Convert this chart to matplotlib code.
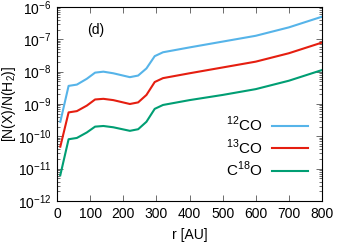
import numpy as np
import matplotlib
matplotlib.use('Agg')
import matplotlib.pyplot as plt
from matplotlib.ticker import LogLocator, NullFormatter, FixedLocator

plt.rcParams['font.family'] = ['Liberation Sans', 'DejaVu Sans']
plt.rcParams['mathtext.fontset'] = 'custom'
plt.rcParams['mathtext.rm'] = 'Liberation Sans'

# radius [AU] and log10 abundances
r = [10, 35, 60, 90, 115, 140, 170, 220, 245, 270, 295, 320, 400, 500, 600, 700, 800]
log_12co = [-9.55, -8.44, -8.40, -8.22, -8.03, -8.00, -8.05, -8.17, -8.12, -7.90, -7.52,
            -7.40, -7.25, -7.07, -6.89, -6.63, -6.30]
log_13co = [-10.32, -9.26, -9.22, -9.05, -8.86, -8.84, -8.88, -9.00, -8.95, -8.72, -8.32,
            -8.20, -8.05, -7.87, -7.69, -7.43, -7.10]
log_c18o = [-11.20, -10.09, -10.05, -9.88, -9.70, -9.68, -9.72, -9.83, -9.78, -9.55, -9.15,
            -9.03, -8.88, -8.72, -8.54, -8.28, -7.95]

labels = ['$^{12}$CO', '$^{13}$CO', 'C$^{18}$O']
colors = ['#56b4e9', '#e51e10', '#009e73']

fig = plt.figure(figsize=(3.46, 2.42), dpi=100)
ax = fig.add_axes([57/346, 41/242, 265/346, 194/242])

for ys, lab, c in zip([log_12co, log_13co, log_c18o], labels, colors):
    ax.plot(r, 10**np.array(ys), color=c, lw=1.5, label=lab)

ax.set_yscale('log')
ax.set_xlim(0, 800)
ax.set_ylim(1e-12, 1e-6)
ax.xaxis.set_major_locator(FixedLocator(np.arange(0, 801, 100)))
ax.yaxis.set_major_locator(LogLocator(base=10, numticks=10))
ax.yaxis.set_minor_locator(LogLocator(base=10, subs=np.arange(2, 10), numticks=10))
ax.yaxis.set_minor_formatter(NullFormatter())
ax.tick_params(which='both', direction='in', top=True, right=True, labelsize=10,
               width=0.6, color='#555555')
ax.tick_params(which='major', length=4, pad=4)
ax.tick_params(which='minor', length=2)
for s in ax.spines.values():
    s.set_linewidth(0.8)

ax.set_xlabel('r [AU]', fontsize=10, labelpad=5)
ax.set_ylabel('[N(X)/N(H$_2$)]', fontsize=10, labelpad=0)
ax.text(118, 2.0e-7, '(d)', fontsize=10, ha='center', va='center')

leg = ax.legend(loc='lower right', bbox_to_anchor=(1.0, 8/194), frameon=False,
                fontsize=11, markerfirst=False, handlelength=2.4, handletextpad=0.6,
                labelspacing=0.22, borderaxespad=0.5)

fig.savefig('out.png', dpi=100)
